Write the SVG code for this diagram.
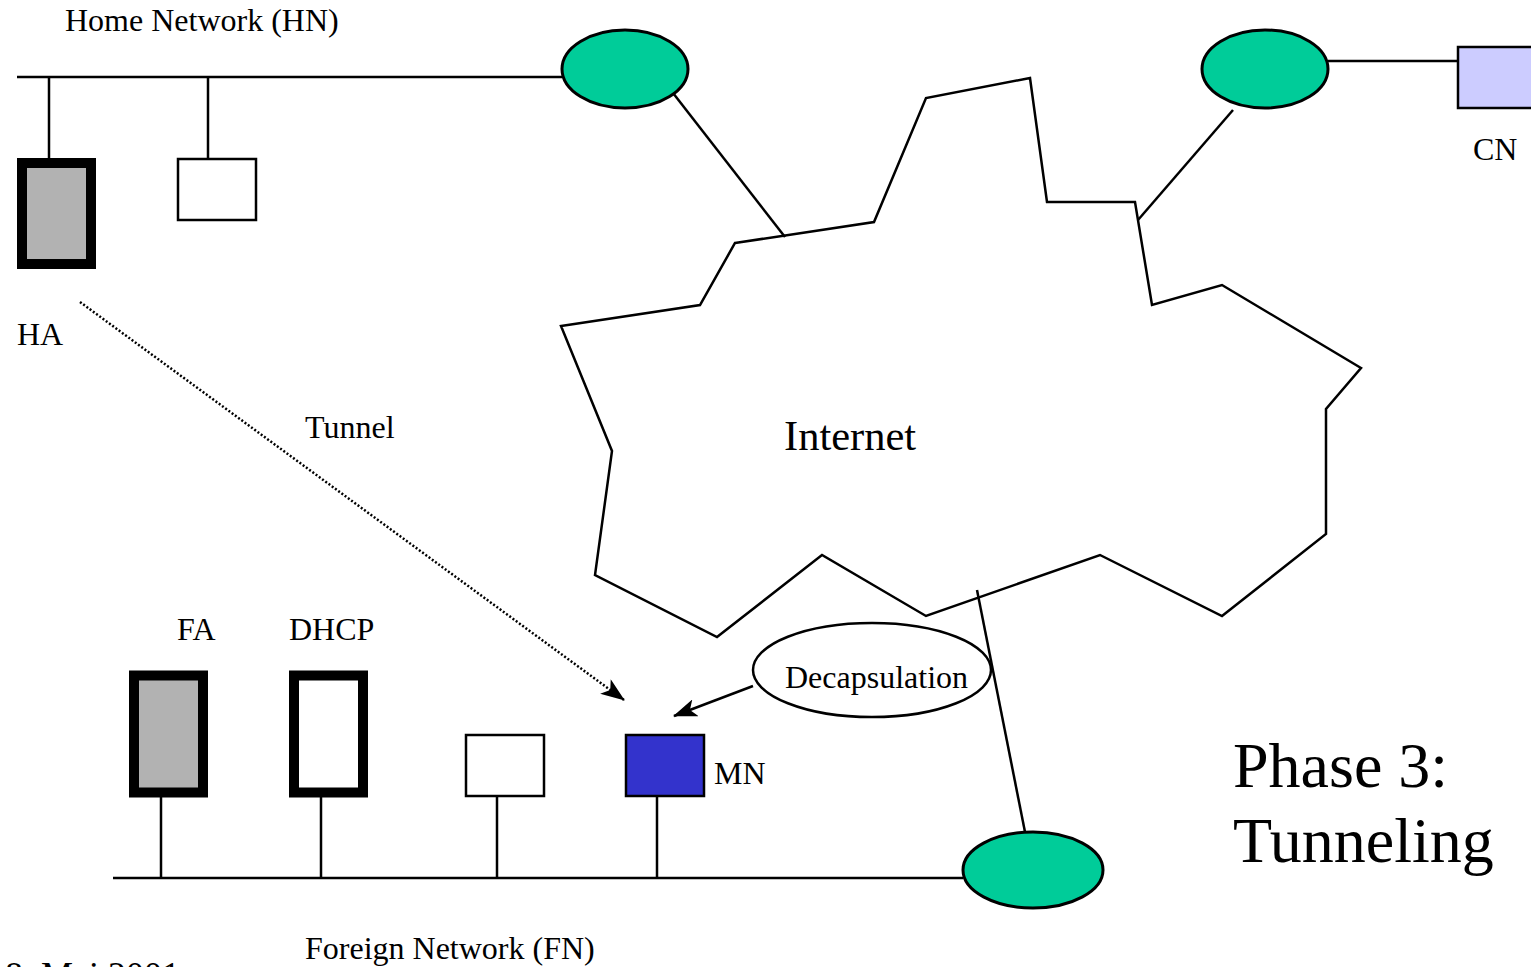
<svg xmlns="http://www.w3.org/2000/svg" width="1531" height="967" viewBox="0 0 1531 967">
  <style>
    text { font-family: "Liberation Serif", "Times New Roman", serif; fill: #000; }
    .lbl { font-size: 32px; }
    .wire { stroke: #000; stroke-width: 2.5; fill: none; }
    .router { fill: #00cc99; stroke: #000; stroke-width: 3; }
    .host { fill: #fff; stroke: #000; stroke-width: 2.5; }
    .agent { stroke: #000; stroke-width: 10; }
  </style>
  <defs>
    <marker id="arrowBig" viewBox="0 0 24 18" refX="23" refY="9" markerWidth="24" markerHeight="18" markerUnits="userSpaceOnUse" orient="auto">
      <path d="M0,0 L24,9 L0,18 L6,9 Z" fill="#000"/>
    </marker>
  </defs>

  <rect width="1531" height="967" fill="#fff"/>

  <!-- Internet cloud -->
  <g id="internet">
    <polygon class="wire" points="735,243 874,222 926,98 1030,78 1047,202 1135,202 1152,305 1222,285 1361,368 1326,409 1326,534 1222,616 1100,555 926,616 822,555 717,637 595,575 612,451 561,326 700,305"/>
    <text x="784" y="450" style="font-size:42.5px">Internet</text>
  </g>

  <!-- Connectors: network segments, links and arrows -->
  <g id="connectors">
    <!-- home network bus -->
    <line class="wire" x1="17" y1="77" x2="562" y2="77"/>
    <line class="wire" x1="49" y1="77" x2="49" y2="158"/>
    <line class="wire" x1="208" y1="77" x2="208" y2="158"/>
    <!-- routers to Internet -->
    <line class="wire" x1="673" y1="93" x2="785" y2="237"/>
    <line class="wire" x1="1233" y1="110" x2="1138" y2="220"/>
    <line class="wire" x1="1328" y1="61" x2="1458" y2="61"/>
    <line class="wire" x1="977" y1="590" x2="1025" y2="832"/>
    <!-- foreign network bus -->
    <line class="wire" x1="113" y1="878" x2="963" y2="878"/>
    <line class="wire" x1="161" y1="797" x2="161" y2="878"/>
    <line class="wire" x1="321" y1="797" x2="321" y2="878"/>
    <line class="wire" x1="497" y1="797" x2="497" y2="878"/>
    <line class="wire" x1="657" y1="797" x2="657" y2="878"/>
    <!-- tunnel -->
    <line x1="80" y1="302" x2="624" y2="700" stroke="#000" stroke-width="2.5" stroke-dasharray="2,2" marker-end="url(#arrowBig)"/>
    <!-- decapsulation pointer -->
    <line x1="753" y1="686" x2="674" y2="716" stroke="#000" stroke-width="2.5" marker-end="url(#arrowBig)"/>
  </g>

  <!-- Routers -->
  <g id="router-hn"><ellipse class="router" cx="625" cy="69" rx="63" ry="39"/></g>
  <g id="router-cn"><ellipse class="router" cx="1265" cy="69" rx="63" ry="39"/></g>
  <g id="router-fn"><ellipse class="router" cx="1033" cy="870" rx="70" ry="38"/></g>

  <!-- Home network -->
  <g id="hn-label"><text class="lbl" x="65" y="31">Home Network (HN)</text></g>
  <g id="ha">
    <rect class="agent" x="22" y="163" width="69" height="101" fill="#b2b2b2"/>
    <text class="lbl" x="17" y="345">HA</text>
  </g>
  <g id="hn-host"><rect class="host" x="178" y="159" width="78" height="61"/></g>

  <!-- Correspondent node -->
  <g id="cn">
    <rect x="1458" y="47" width="80" height="61" fill="#ccccff" stroke="#000" stroke-width="2.5"/>
    <text class="lbl" x="1473" y="160">CN</text>
  </g>

  <!-- Tunnel label -->
  <g id="tunnel-label"><text class="lbl" x="305" y="438">Tunnel</text></g>

  <!-- Foreign network -->
  <g id="fa">
    <rect class="agent" x="134" y="675.5" width="69" height="117" fill="#b2b2b2"/>
    <text class="lbl" x="177" y="640">FA</text>
  </g>
  <g id="dhcp">
    <rect class="agent" x="294" y="675.5" width="69" height="117" fill="#fff"/>
    <text class="lbl" x="289" y="640">DHCP</text>
  </g>
  <g id="fn-host"><rect class="host" x="466" y="735" width="78" height="61"/></g>
  <g id="mn">
    <rect x="626" y="735" width="78" height="61" fill="#3333cc" stroke="#000" stroke-width="2.5"/>
    <text class="lbl" x="714" y="784">MN</text>
  </g>
  <g id="decapsulation">
    <ellipse cx="872" cy="670" rx="119" ry="47" fill="#fff" stroke="#000" stroke-width="2.5"/>
    <text class="lbl" x="785" y="688">Decapsulation</text>
  </g>
  <g id="fn-label"><text class="lbl" x="305" y="959">Foreign Network (FN)</text></g>

  <!-- Phase title -->
  <g id="phase">
    <text x="1233" y="787" style="font-size:64px">Phase 3:</text>
    <text x="1233" y="862" style="font-size:64px">Tunneling</text>
  </g>

  <!-- Date footer, running off the bottom edge -->
  <g id="date"><text x="5" y="987" style="font-size:36px">8. Mai 2001</text></g>
</svg>
